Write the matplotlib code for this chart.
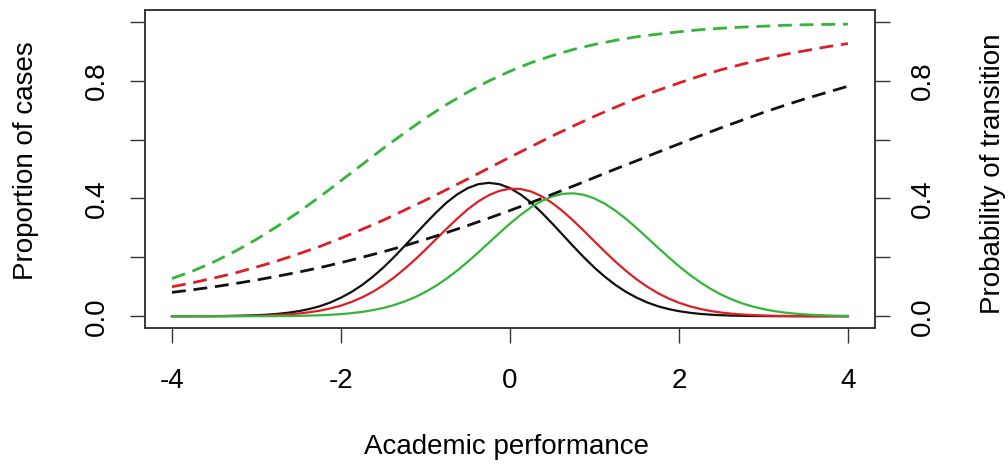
"""
plot.py — academic performance: distributions and transition probabilities
"""

import matplotlib
matplotlib.use("Agg")
import matplotlib.pyplot as plt

plt.rcParams["font.family"] = ["Liberation Sans", "DejaVu Sans"]

# ──────────────────────────────────────────────
#  Data
# ──────────────────────────────────────────────
# solid curves: proportion of cases, x step 0.125
x_dens = [-4.0, -3.875, -3.75, -3.625, -3.5, -3.375, -3.25, -3.125,
          -3.0, -2.875, -2.75, -2.625, -2.5, -2.375, -2.25, -2.125,
          -2.0, -1.875, -1.75, -1.625, -1.5, -1.375, -1.25, -1.125,
          -1.0, -0.875, -0.75, -0.625, -0.5, -0.375, -0.25, -0.125,
          0.0, 0.125, 0.25, 0.375, 0.5, 0.625, 0.75, 0.875,
          1.0, 1.125, 1.25, 1.375, 1.5, 1.625, 1.75, 1.875,
          2.0, 2.125, 2.25, 2.375, 2.5, 2.625, 2.75, 2.875,
          3.0, 3.125, 3.25, 3.375, 3.5, 3.625, 3.75, 3.875, 4.0]
dens_black = [0.0, 0.0001, 0.0002, 0.0003, 0.0005, 0.0008, 0.0014, 0.0022,
              0.0034, 0.0053, 0.008, 0.0119, 0.0172, 0.0245, 0.034, 0.0468,
              0.063, 0.0824, 0.106, 0.1337, 0.165, 0.200, 0.2375, 0.2764,
              0.315, 0.352, 0.386, 0.4137, 0.435, 0.4485, 0.453, 0.4485,
              0.435, 0.4137, 0.386, 0.352, 0.315, 0.2764, 0.2375, 0.200,
              0.165, 0.1337, 0.106, 0.0824, 0.063, 0.0468, 0.034, 0.0245,
              0.0172, 0.0119, 0.008, 0.0053, 0.0034, 0.0022, 0.0014, 0.0008,
              0.0005, 0.0003, 0.0002, 0.0001, 0.0001, 0.0, 0.0, 0.0, 0.0]
dens_red = [0.0, 0.0, 0.0001, 0.0001, 0.0003, 0.0004, 0.0007, 0.0011,
            0.0018, 0.0028, 0.0042, 0.0063, 0.0093, 0.0134, 0.019, 0.0265,
            0.036, 0.0486, 0.064, 0.0826, 0.105, 0.1307, 0.160, 0.1918,
            0.226, 0.2615, 0.297, 0.3313, 0.363, 0.3897, 0.411, 0.4258,
            0.433, 0.4322, 0.4235, 0.4074, 0.3846, 0.3567, 0.3246, 0.290,
            0.2544, 0.2191, 0.185, 0.1537, 0.125, 0.1002, 0.0787, 0.0606,
            0.0459, 0.0341, 0.0248, 0.0178, 0.0125, 0.0086, 0.0058, 0.0039,
            0.0025, 0.0016, 0.001, 0.0006, 0.0004, 0.0002, 0.0001, 0.0001, 0.0]
dens_green = [0.0, 0.0, 0.0, 0.0, 0.0, 0.0, 0.0001, 0.0001,
              0.0002, 0.0004, 0.0006, 0.0009, 0.0014, 0.0022, 0.0033, 0.0049,
              0.0072, 0.0104, 0.0147, 0.0205, 0.028, 0.0377, 0.0497, 0.0646,
              0.0825, 0.1035, 0.1277, 0.1549, 0.1847, 0.2165, 0.2494, 0.2824,
              0.3144, 0.344, 0.370, 0.3913, 0.4068, 0.4157, 0.4175, 0.4122,
              0.400, 0.3818, 0.358, 0.3302, 0.2993, 0.2666, 0.2335, 0.201,
              0.170, 0.1416, 0.1157, 0.0931, 0.0735, 0.0571, 0.0436, 0.0327,
              0.0242, 0.0175, 0.0125, 0.0088, 0.006, 0.0041, 0.0027, 0.0018, 0.0011]

# dashed curves: probability of transition, x step 0.25
x_prob = [-4.0, -3.75, -3.5, -3.25, -3.0, -2.75, -2.5, -2.25,
          -2.0, -1.75, -1.5, -1.25, -1.0, -0.75, -0.5, -0.25,
          0.0, 0.25, 0.5, 0.75, 1.0, 1.25, 1.5, 1.75,
          2.0, 2.25, 2.5, 2.75, 3.0, 3.25, 3.5, 3.75, 4.0]
prob_black = [0.081, 0.090, 0.100, 0.111, 0.123, 0.136, 0.150, 0.165,
              0.182, 0.200, 0.219, 0.239, 0.261, 0.284, 0.308, 0.333,
              0.359, 0.386, 0.414, 0.442, 0.471, 0.500, 0.528, 0.557,
              0.585, 0.613, 0.640, 0.666, 0.692, 0.716, 0.739, 0.760, 0.781]
prob_red = [0.100, 0.114, 0.130, 0.147, 0.167, 0.188, 0.212, 0.237,
            0.265, 0.295, 0.326, 0.360, 0.394, 0.430, 0.466, 0.503,
            0.540, 0.576, 0.612, 0.646, 0.679, 0.710, 0.740, 0.767,
            0.792, 0.816, 0.837, 0.856, 0.873, 0.889, 0.902, 0.915, 0.926]
prob_green = [0.128, 0.154, 0.185, 0.221, 0.261, 0.306, 0.354, 0.406,
              0.460, 0.515, 0.570, 0.622, 0.673, 0.719, 0.761, 0.799,
              0.832, 0.861, 0.885, 0.906, 0.923, 0.937, 0.949, 0.958,
              0.966, 0.973, 0.978, 0.982, 0.985, 0.988, 0.990, 0.991, 0.992]

x_ticks = [-4, -2, 0, 2, 4]
y_ticks = [0.0, 0.2, 0.4, 0.6, 0.8, 1.0]
y_tick_labels = ["0.0", "", "0.4", "", "0.8", ""]

COL_BLACK = "#111111"
COL_RED = "#dc1f26"
COL_GREEN = "#33b53a"
FS = 20


fig = plt.figure(figsize=(10.08, 4.65), dpi=100)
fig.patch.set_facecolor("white")
ax = fig.add_axes([0.1438, 0.2946, 0.7242, 0.6839])

for y, c in zip([dens_black, dens_red, dens_green], [COL_BLACK, COL_RED, COL_GREEN]):
    ax.plot(x_dens, y, color=c, linewidth=1.6, solid_joinstyle="round")

for y, c in zip([prob_black, prob_red, prob_green], [COL_BLACK, COL_RED, COL_GREEN]):
    ax.plot(x_prob, y, color=c, linewidth=2.0, linestyle=(0, (5, 2.8)))

ax.set_xlim(-4.32, 4.32)
ax.set_ylim(-0.04, 1.04)

ax.set_xticks(x_ticks)
ax.set_xticklabels([str(t) for t in x_ticks], fontsize=FS)
ax.set_yticks(y_ticks)
ax.set_yticklabels(y_tick_labels, fontsize=FS, rotation=90, va="center")
ax.tick_params(axis="x", direction="out", length=11, width=1.0, color="#333333", pad=18)
ax.tick_params(axis="y", direction="out", length=11, width=1.0, color="#333333", pad=14)

# правая ось — та же шкала
ax2 = ax.twinx()
ax2.set_ylim(-0.04, 1.04)
ax2.set_yticks(y_ticks)
ax2.set_yticklabels(y_tick_labels, fontsize=FS, rotation=90, va="center")
ax2.tick_params(axis="y", direction="out", length=11, width=1.0, color="#333333", pad=14)

for a in (ax, ax2):
    for spine in a.spines.values():
        spine.set_edgecolor("#333333")
        spine.set_linewidth(1.1)

fig.text(507 / 1008, 1 - 447 / 465, "Academic performance",
         ha="center", va="center", fontsize=FS)
fig.text(26 / 1008, 1 - 161 / 465, "Proportion of cases",
         ha="center", va="center", rotation=90, fontsize=FS)
fig.text(993 / 1008, 1 - 174 / 465, "Probability of transition",
         ha="center", va="center", rotation=90, fontsize=FS)

fig.savefig("out.png", dpi=100, facecolor="white")
plt.close(fig)
